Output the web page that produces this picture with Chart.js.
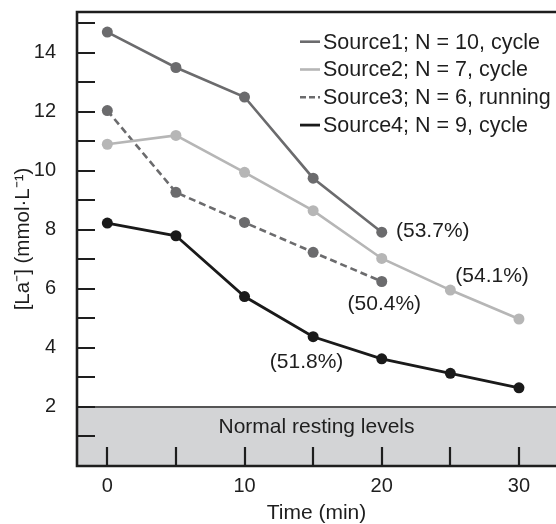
<!DOCTYPE html>
<html>
<head>
<meta charset="utf-8">
<script src="https://cdn.jsdelivr.net/npm/chart.js@4.4.1/dist/chart.umd.min.js"></script>
<style>
  html, body { margin: 0; padding: 0; background: #ffffff; }
  #wrap { width: 556px; height: 524px; position: relative; }
</style>
</head>
<body>
<div id="wrap"><canvas id="chart" width="556" height="524"></canvas></div>
<script>
// Recovery time after exercise (min)
const minutes = [0, 5, 10, 15, 20, 25, 30];

// Blood lactate, mmol/L
const source1 = [14.7, 13.5, 12.5, 9.75, 7.92];
const source2 = [10.9, 11.2, 9.95, 8.65, 7.03, 5.96, 4.98];
const source3 = [12.04, 9.27, 8.25, 7.24, 6.25];
const source4 = [8.23, 7.8, 5.74, 4.38, 3.63, 3.14, 2.65];

const seriesNames = [
  'Source1; N = 10, cycle',
  'Source2; N = 7, cycle',
  'Source3; N = 6, running',
  'Source4; N = 9, cycle'
];

// Percent removed by the final sample
const removalLabels = ['(53.7%)', '(54.1%)', '(50.4%)', '(51.8%)'];

const xTickValues = [0, 5, 10, 15, 20, 25, 30];
const xTickLabels = ['0', '', '10', '', '20', '', '30'];
const yTickValues = [1, 2, 3, 4, 5, 6, 7, 8, 9, 10, 11, 12, 13, 14, 15];
const yTickLabels = ['', '2', '', '4', '', '6', '', '8', '', '10', '', '12', '', '14', ''];

// Upper limit of normal resting lactate
const restingUpper = 2;
const restingText = 'Normal resting levels';

const FONT = '"Liberation Sans", Arial, Helvetica, sans-serif';
const INK = '#1e1e1e';

function points(values) {
  return values.map((v, i) => ({ x: minutes[i], y: v }));
}

const styles = [
  { color: '#6b6b6d', dash: [], width: 2.6 },
  { color: '#b6b6b6', dash: [], width: 2.6 },
  { color: '#6b6b6d', dash: [7, 4], width: 2.6 },
  { color: '#1a1a1a', dash: [], width: 2.8 }
];
const seriesValues = [source1, source2, source3, source4];

const datasets = seriesValues.map((vals, i) => ({
  label: seriesNames[i],
  data: points(vals),
  borderColor: styles[i].color,
  backgroundColor: styles[i].color,
  borderDash: styles[i].dash,
  borderWidth: styles[i].width,
  pointRadius: 5.5,
  pointBorderWidth: 0,
  pointBackgroundColor: styles[i].color,
  tension: 0,
  fill: false
}));

// Where each percentage note sits, in axis units
const notePlacement = [
  { x: 23.72, y: 7.94 },
  { x: 28.04, y: 6.44 },
  { x: 20.19, y: 5.48 },
  { x: 14.52, y: 3.51 }
];

const framePlugin = {
  id: 'frame',
  beforeDatasetsDraw(chart) {
    const { ctx, chartArea: a, scales } = chart;
    const x = scales.x, y = scales.y;
    ctx.save();
    // resting band
    const yb = y.getPixelForValue(restingUpper);
    ctx.fillStyle = '#d3d4d6';
    ctx.fillRect(a.left, yb, a.right - a.left, a.bottom - yb);
    ctx.strokeStyle = '#555555';
    ctx.lineWidth = 2;
    ctx.beginPath();
    ctx.moveTo(a.left, yb);
    ctx.lineTo(a.right, yb);
    ctx.stroke();
    ctx.fillStyle = INK;
    ctx.font = '21px ' + FONT;
    ctx.textAlign = 'center';
    ctx.textBaseline = 'middle';
    ctx.fillText(restingText, (a.left + a.right) / 2, y.getPixelForValue(1.33));

    // inward tick marks
    ctx.strokeStyle = INK;
    ctx.lineWidth = 2.2;
    ctx.beginPath();
    y.ticks.forEach(t => {
      const py = Math.round(y.getPixelForValue(t.value));
      ctx.moveTo(a.left, py);
      ctx.lineTo(a.left + 18, py);
    });
    x.ticks.forEach(t => {
      const px = Math.round(x.getPixelForValue(t.value));
      ctx.moveTo(px, a.bottom);
      ctx.lineTo(px, a.bottom - 19);
    });
    ctx.stroke();

    // frame: left, bottom, top
    ctx.lineWidth = 2.6;
    ctx.beginPath();
    ctx.moveTo(a.right + 2, a.top);
    ctx.lineTo(a.left, a.top);
    ctx.lineTo(a.left, a.bottom);
    ctx.lineTo(a.right + 2, a.bottom);
    ctx.stroke();
    ctx.restore();
  },
  afterDatasetsDraw(chart) {
    const { ctx, chartArea: a, scales } = chart;
    ctx.save();
    // legend
    ctx.font = '21.5px ' + FONT;
    ctx.textAlign = 'left';
    ctx.textBaseline = 'middle';
    const left = a.right - 256;
    chart.data.datasets.forEach((ds, i) => {
      const ry = a.top + 29.7 + i * 27.8;
      ctx.strokeStyle = ds.borderColor;
      ctx.lineWidth = ds.borderWidth;
      ctx.setLineDash(ds.borderDash.length ? [6, 3] : []);
      ctx.beginPath();
      ctx.moveTo(left, ry);
      ctx.lineTo(left + 20, ry);
      ctx.stroke();
      ctx.setLineDash([]);
      ctx.fillStyle = INK;
      ctx.fillText(ds.label, left + 23, ry + 1);
    });
    // percentage notes
    ctx.font = '21px ' + FONT;
    ctx.textAlign = 'center';
    removalLabels.forEach((txt, i) => {
      const p = notePlacement[i];
      ctx.fillText(txt, scales.x.getPixelForValue(p.x), scales.y.getPixelForValue(p.y));
    });
    ctx.restore();
  }
};

new Chart(document.getElementById('chart'), {
  type: 'line',
  data: { datasets },
  options: {
    responsive: false,
    animation: false,
    layout: { autoPadding: false, padding: { top: 12, right: 0, left: 0, bottom: 0 } },
    plugins: { legend: { display: false }, tooltip: { enabled: false } },
    scales: {
      x: {
        type: 'linear',
        min: -2.21,
        max: 32.7,
        grid: { display: false },
        border: { display: false },
        afterBuildTicks(scale) { scale.ticks = xTickValues.map(v => ({ value: v })); },
        afterFit(scale) {
          scale.height = 58;
          scale.paddingLeft = 0;
          scale.paddingRight = 0;
        },
        ticks: {
          autoSkip: false,
          maxRotation: 0,
          padding: 0,
          color: INK,
          font: { family: FONT, size: 20 },
          callback: (v, i) => xTickLabels[i]
        },
        title: {
          display: true,
          text: 'Time (min)',
          color: INK,
          font: { family: FONT, size: 21, lineHeight: 1 },
          padding: { top: 0, bottom: 0 }
        }
      },
      y: {
        type: 'linear',
        min: 0,
        max: 15.38,
        grid: { display: false },
        border: { display: false },
        afterBuildTicks(scale) { scale.ticks = yTickValues.map(v => ({ value: v })); },
        afterFit(scale) {
          scale.width = 77;
          scale.paddingTop = 0;
          scale.paddingBottom = 0;
        },
        ticks: {
          autoSkip: false,
          padding: 13,
          color: INK,
          font: { family: FONT, size: 20 },
          callback: (v, i) => yTickLabels[i]
        },
        title: {
          display: true,
          text: '[La\u207B] (mmol\u00B7L\u207B\u00B9)',
          color: INK,
          font: { family: FONT, size: 20.5 },
          padding: { top: 11, bottom: 0 }
        }
      }
    }
  },
  plugins: [framePlugin]
});
</script>
</body>
</html>
